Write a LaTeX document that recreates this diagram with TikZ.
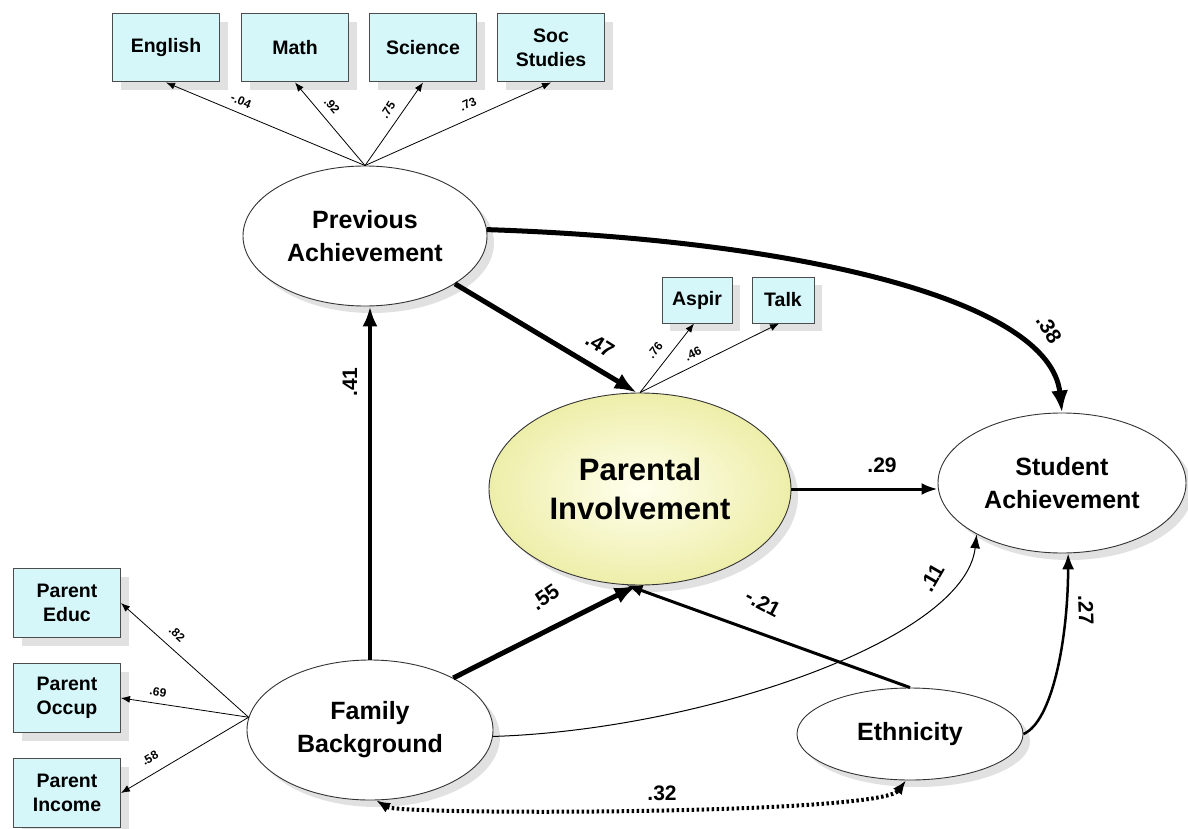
\documentclass[tikz,border=0pt]{standalone}
\usepackage{fontspec}
\setmainfont{Liberation Sans}
\usetikzlibrary{arrows.meta,shapes.geometric,shadows,calc}

\definecolor{boxfill}{RGB}{214,247,250}
\definecolor{shadowgray}{RGB}{195,195,195}
\definecolor{piinner}{RGB}{255,255,238}
\definecolor{piouter}{RGB}{238,238,170}

\begin{document}
\begin{tikzpicture}[x=1pt,y=-1pt,
  latent/.style={ellipse, draw=black!80, line width=0.9pt, fill=white, inner sep=0pt,
    align=center, font=\bfseries\fontsize{25}{33}\selectfont,
    drop shadow={shadow xshift=7pt, shadow yshift=-7pt, fill=shadowgray}},
  indbox/.style={rectangle, draw=black!70, line width=1pt, fill=boxfill, inner sep=0pt,
    align=center, font=\bfseries\fontsize{19.5}{24}\selectfont,
    drop shadow={shadow xshift=8pt, shadow yshift=-8pt, fill=shadowgray}},
  wthin/.style={-{Latex[length=9pt,width=7pt]}, line width=0.8pt},
  wthick/.style={-{Latex[length=22pt,width=17pt]}, line width=5pt},
  wfour/.style={-{Latex[length=20pt,width=15pt]}, line width=4pt},
  wmed/.style={-{Latex[length=16pt,width=12pt]}, line width=3pt},
  wlight/.style={-{Latex[length=14pt,width=10pt]}, line width=1pt},
  lblbig/.style={font=\bfseries\fontsize{21}{21}\selectfont, inner sep=1pt},
  lblsmall/.style={font=\bfseries\fontsize{12}{12}\selectfont, inner sep=0.5pt},
]
\useasboundingbox (0,0) rectangle (1188,829);

% latent variables
\node[latent, minimum width=244pt, minimum height=140pt] (pa) at (365,236) {Previous\\Achievement};
\node[latent, minimum width=302pt, minimum height=192pt, shade, inner color=piinner, outer color=piouter,
      font=\bfseries\fontsize{31}{39}\selectfont] (pi) at (640,489) {Parental\\Involvement};
\node[latent, minimum width=248pt, minimum height=140pt] (sa) at (1062,483) {Student\\Achievement};
\node[latent, minimum width=246pt, minimum height=140pt] (fb) at (370,730) {Family\\Background};
\node[latent, minimum width=226pt, minimum height=92pt] (eth) at (910,734) {Ethnicity};

% observed indicators
\node[indbox, minimum width=107pt, minimum height=68pt] (eng) at (166,48) {English};
\node[indbox, minimum width=107pt, minimum height=68pt] (math) at (295,48) {Math};
\node[indbox, minimum width=107pt, minimum height=68pt] (sci) at (423,48) {Science};
\node[indbox, minimum width=107pt, minimum height=68pt] (soc) at (551,48) {Soc\\Studies};
\node[indbox, minimum width=70pt, minimum height=46pt] (aspir) at (697,300) {Aspir};
\node[indbox, minimum width=62pt, minimum height=46pt] (talk) at (783,300) {Talk};
\node[indbox, minimum width=107pt, minimum height=69pt] (educ) at (67,603) {Parent\\Educ};
\node[indbox, minimum width=107pt, minimum height=69pt] (occ) at (67,698) {Parent\\Occup};
\node[indbox, minimum width=107pt, minimum height=69pt] (inc) at (67,793) {Parent\\Income};

% measurement paths
\draw[wthin] (pa.north) -- (eng.south);
\draw[wthin] (pa.north) -- (math.south);
\draw[wthin] (pa.north) -- (sci.south);
\draw[wthin] (pa.north) -- (soc.south);
\draw[wthin] (pi.north) -- ([xshift=-3pt]aspir.south);
\draw[wthin] (pi.north) -- ([xshift=-4pt]talk.south);
\draw[wthin] (fb.174) -- (educ.east);
\draw[wthin] (fb.174) -- (occ.east);
\draw[wthin] (fb.174) -- (inc.east);

\node[lblsmall, rotate=-23] (l1) at (241,101) {-.04};
\node[lblsmall, rotate=-50] (l2) at (332,106) {.92};
\node[lblsmall, rotate=57] (l3) at (388,110) {.75};
\node[lblsmall, rotate=25] (l4) at (468,104) {.73};
\node[lblsmall, rotate=51] (l5) at (655,350) {.76};
\node[lblsmall, rotate=26] (l6) at (693,354) {.46};
\node[lblsmall, rotate=-42] (l7) at (177,634) {.82};
\node[lblsmall, rotate=-9] (l8) at (158,692) {.69};
\node[lblsmall, rotate=30] (l9) at (150,758) {.58};

% structural paths
\draw[wthick] (pa.-28) -- (pi.92);
\draw[wthick] (pa.3) .. controls (800,240) and (1050,300) .. (sa.north);
\draw[wmed] (pi.east) -- (pi.east -| sa.west);
\draw[wfour] (fb.north) -- (fb.north |- pa.south);
\draw[wthick] (fb.32) -- (pi.-92);
\draw[wmed] (eth.north) -- (pi.-98);
\draw[wlight] (fb.-3) .. controls (700,730) and (965,640) .. (sa.211);
\draw[wmed, line width=2.5pt] (eth.east) .. controls (1052,722) and (1068,640) .. (sa.-85);
\draw[{Latex[length=14pt,width=11pt]}-{Latex[length=14pt,width=11pt]}, line width=4pt,
      dash pattern=on 2.5pt off 2.5pt] (fb.-85) .. controls (400,815) and (880,815) .. (eth.-95);

\node[lblbig, rotate=-32] (c47) at (600,345) {.47};
\node[lblbig, rotate=-58] (c38) at (1049,329) {.38};
\node[lblbig] (c29) at (882,465) {.29};
\node[lblbig, rotate=90] (c41) at (350,382) {.41};
\node[lblbig, rotate=35] (c55) at (545,597) {.55};
\node[lblbig, rotate=-28] (c21) at (763,603) {-.21};
\node[lblbig, rotate=60] (c11) at (932,578) {.11};
\node[lblbig, rotate=-88] (c27) at (1086,610) {.27};
\node[lblbig] (c32) at (662,793) {.32};
\end{tikzpicture}
\end{document}
